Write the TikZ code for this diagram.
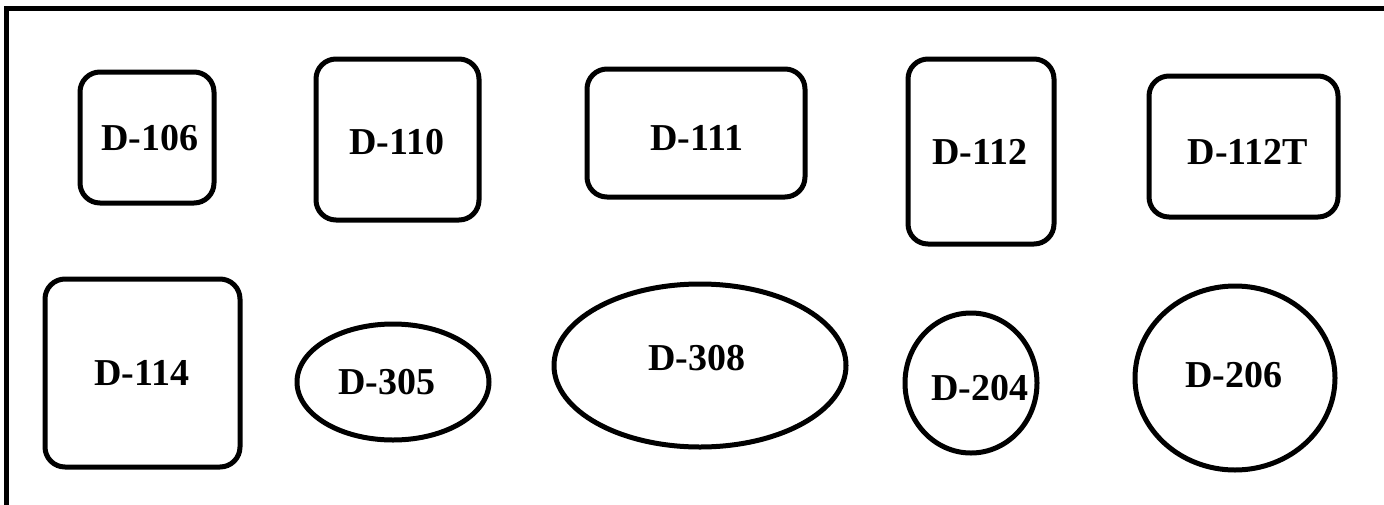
\documentclass[tikz,border=0pt]{standalone}
\usepackage{fontspec}
\setmainfont{Liberation Serif}
\usetikzlibrary{shapes.geometric}

\begin{document}
\begin{tikzpicture}[x=1pt, y=-1pt,
  every node/.style={inner sep=0pt},
  box/.style={draw, line width=5pt, rounded corners=20pt, rectangle},
  oval/.style={draw, line width=5pt, ellipse},
  tag/.style={font=\fontsize{38}{44}\selectfont\bfseries}]
\useasboundingbox (0,0) rectangle (1384,504);
\draw[line width=5pt] (6.5,520) -- (6.5,8) -- (1400,8);

\node[box, minimum width=134, minimum height=131] (d106) at (147,137.5) {};
\node[box, minimum width=163, minimum height=161] (d110) at (397.5,139.5) {};
\node[box, minimum width=218, minimum height=128] (d111) at (696,133) {};
\node[box, minimum width=146, minimum height=185] (d112) at (981,151.5) {};
\node[box, minimum width=189, minimum height=141] (d112T) at (1243.5,146.5) {};
\node[box, minimum width=195, minimum height=188] (d114) at (142.5,373) {};

\node[oval, minimum width=192, minimum height=116] (d305) at (393,382) {};
\node[oval, minimum width=292, minimum height=163] (d308) at (700,365.5) {};
\node[oval, minimum width=132, minimum height=140] (d204) at (971,383) {};
\node[oval, minimum width=200, minimum height=184] (d206) at (1235,378) {};

\node[tag] (t106) at (150,138) {D-106};
\node[tag] (t110) at (397,142) {D-110};
\node[tag] (t111) at (697,138) {D-111};
\node[tag] (t112) at (980,152) {D-112};
\node[tag] (t112T) at (1248,152) {D-112T};
\node[tag] (t114) at (142,373) {D-114};
\node[tag] (t305) at (387,382) {D-305};
\node[tag] (t308) at (697,358) {D-308};
\node[tag] (t204) at (980,388) {D-204};
\node[tag] (t206) at (1234,375) {D-206};
\end{tikzpicture}
\end{document}
